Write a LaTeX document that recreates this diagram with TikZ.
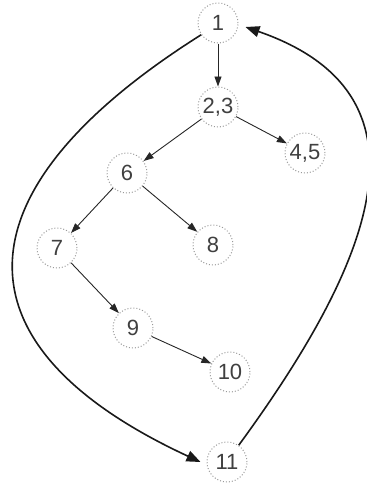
\documentclass[tikz,border=0pt]{standalone}
\usepackage{fontspec}
\setmainfont{Liberation Sans}
\usepackage{tikz}
\usetikzlibrary{arrows.meta, positioning, calc}

\begin{document}
\begin{tikzpicture}[x=0.5pt, y=-0.5pt,
    vertex/.style={circle, draw=gray!80, densely dotted, line width=0.5pt, minimum size=20pt, inner sep=0pt, font=\fontsize{11}{12}\selectfont, text=black!75},
    edge/.style={-{Triangle[length=5pt, width=3.5pt]}, black!85, line width=0.45pt},
    loop/.style={-{Triangle[length=7pt, width=5.5pt]}, black!90, line width=0.8pt}]
    \useasboundingbox (0, 0) rectangle (367, 483);

    % Nodes
    \node[vertex] (n1)  at (218, 23)  {1};
    \node[vertex] (n23) at (218, 107) {2,3};
    \node[vertex] (n45) at (305, 153) {4,5};
    \node[vertex] (n6)  at (127, 173) {6};
    \node[vertex] (n7)  at (57, 248)  {7};
    \node[vertex] (n8)  at (213, 245) {8};
    \node[vertex] (n9)  at (133, 328) {9};
    \node[vertex] (n10) at (230, 372) {10};
    \node[vertex] (n11) at (227, 462) {11};

    % Edges
    \draw[edge] (n1) -- (n23);
    \draw[edge] (n23) -- (n6);
    \draw[edge] (n23) -- (n45);
    \draw[edge] (n6) -- (n7);
    \draw[edge] (n6) -- (n8);
    \draw[edge] (n7) -- (n9);
    \draw[edge] (n9) -- (n10);

    % Back loops
    \draw[loop] (n1.-145) .. controls (-45, 190) and (-52, 345) .. ($(n11.west)+(-6, 0)$);
    \draw[loop] (n11.55) .. controls (372, 263) and (442, 95) .. ($(n1.east)+(7, 4)$);
\end{tikzpicture}
\end{document}
